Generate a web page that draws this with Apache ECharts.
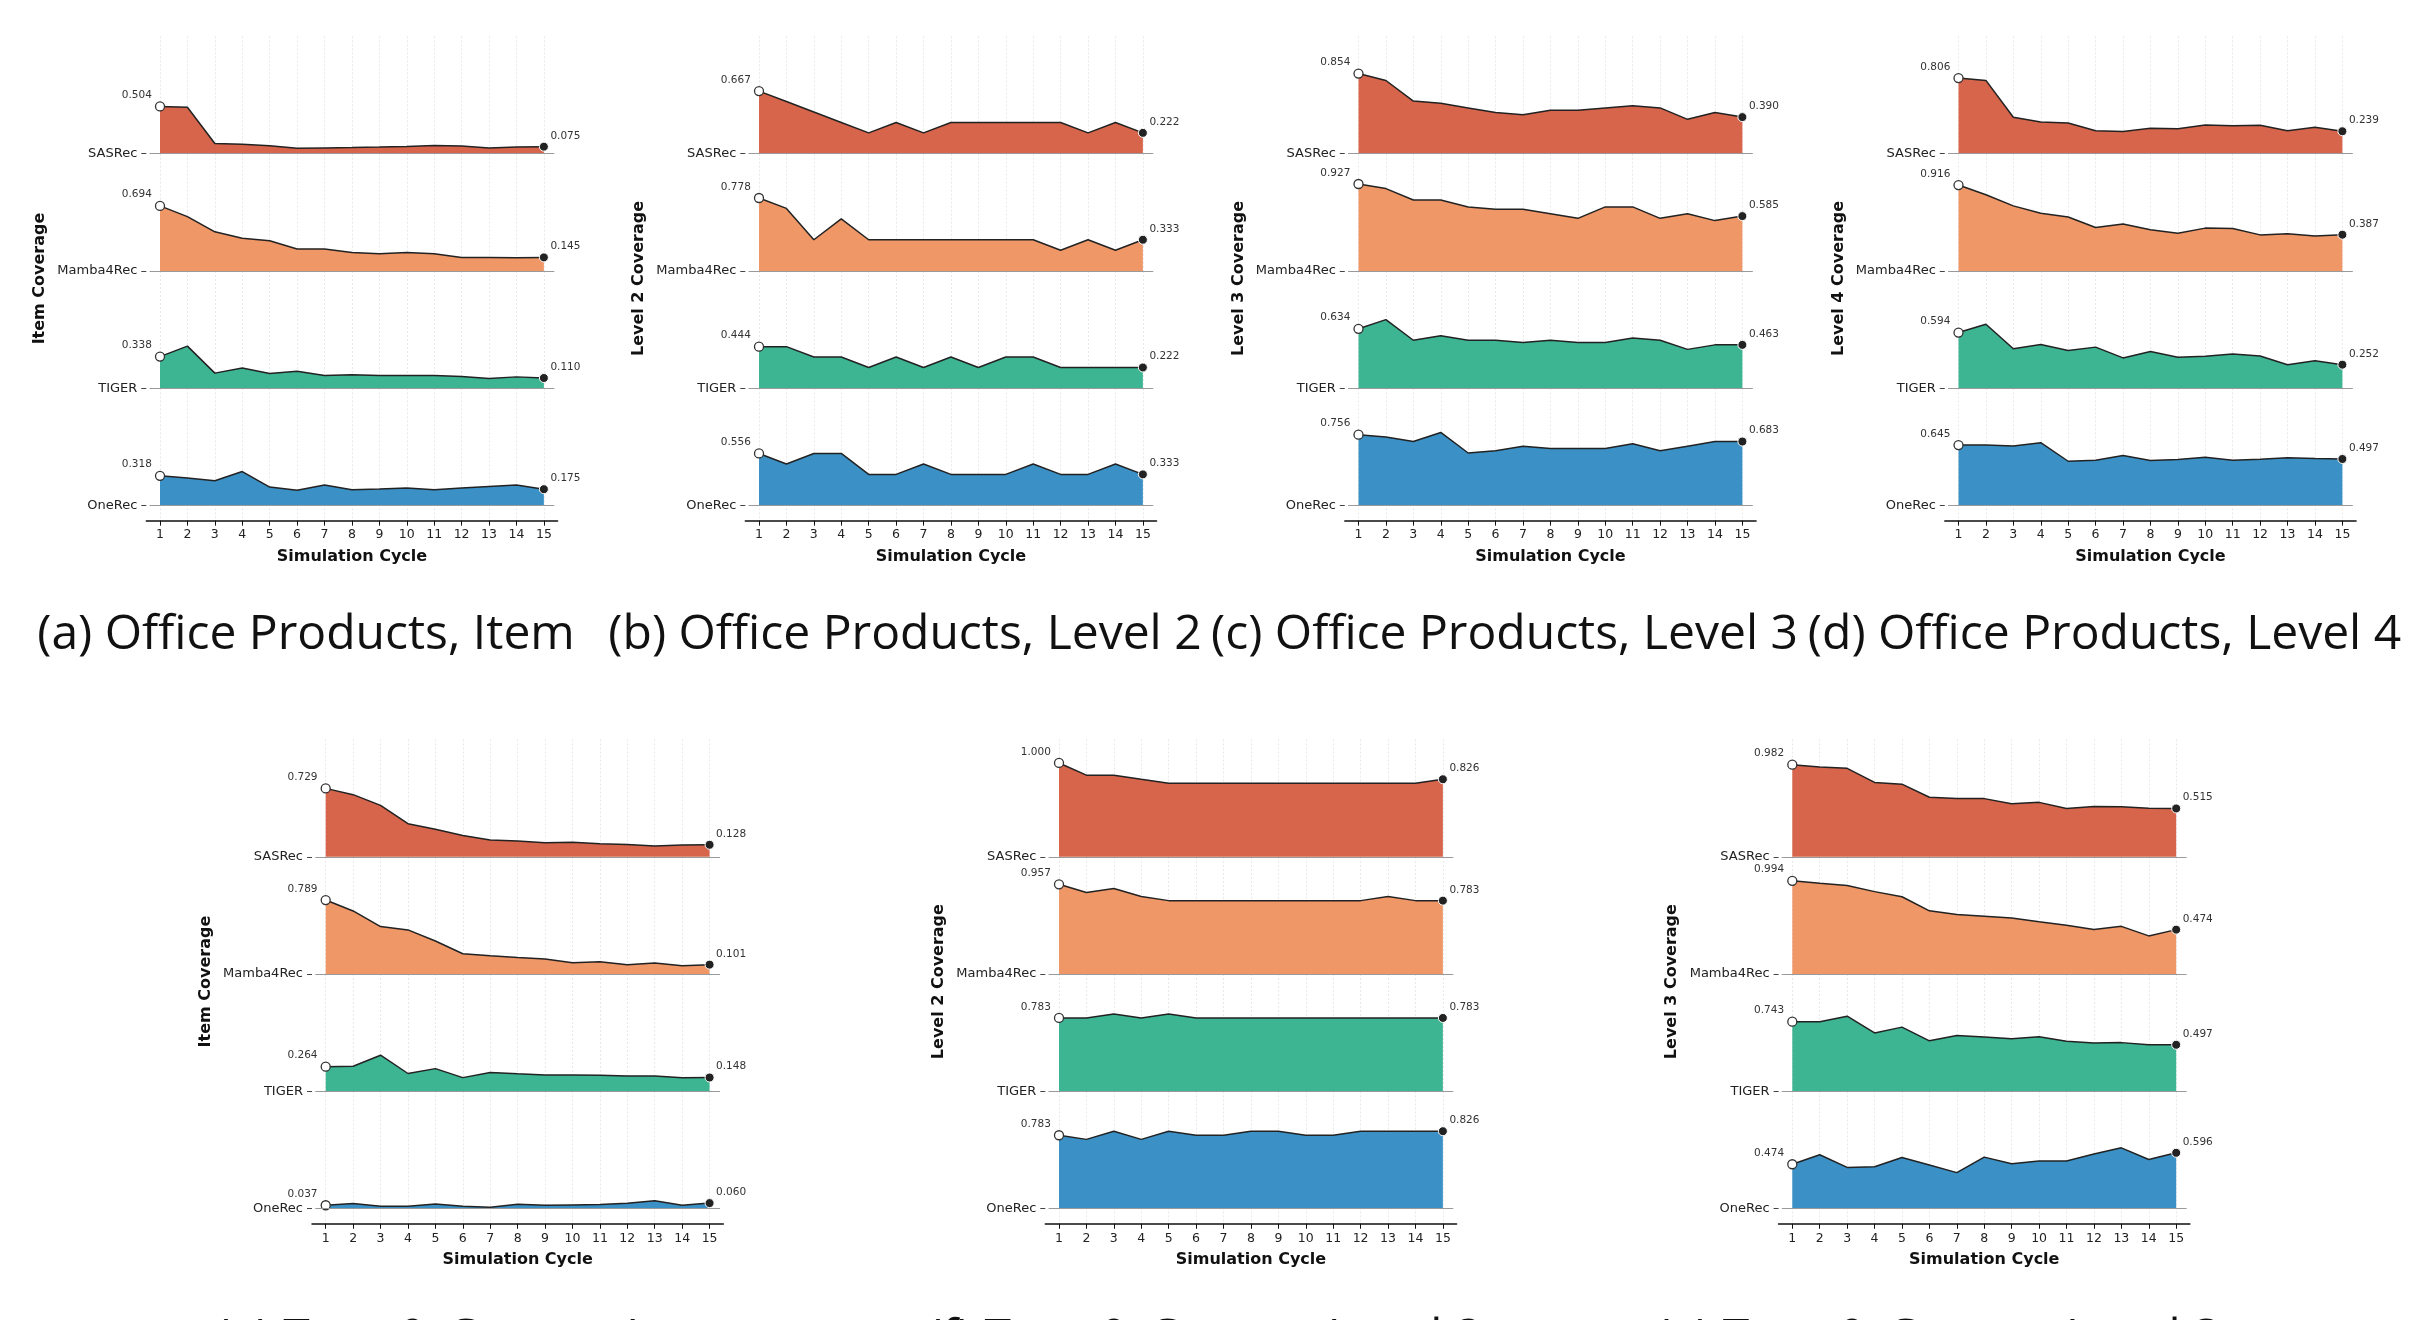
<!DOCTYPE html>
<html>
<head>
<meta charset="utf-8">
<script src="https://cdn.jsdelivr.net/npm/echarts@6/dist/echarts.min.js"></script>
<style>
html,body{margin:0;padding:0;background:#fff;}
#chart{width:2412px;height:1320px;}
</style>
</head>
<body>
<div id="chart"></div>
<script>
// ---------------- data ----------------
const cycles = [1,2,3,4,5,6,7,8,9,10,11,12,13,14,15];
const models = ['SASRec','Mamba4Rec','TIGER','OneRec'];
const modelColors = ['#D6654B','#F09768','#3DB593','#3B91C5'];

// (a) Office Products, Item
const officeItem_SASRec    = [0.504,0.495,0.108,0.101,0.084,0.059,0.062,0.065,0.071,0.078,0.088,0.082,0.062,0.071,0.075];
const officeItem_Mamba4Rec = [0.694,0.580,0.418,0.348,0.322,0.234,0.234,0.198,0.183,0.198,0.185,0.145,0.145,0.141,0.145];
const officeItem_TIGER     = [0.338,0.450,0.162,0.216,0.158,0.183,0.137,0.144,0.137,0.137,0.137,0.126,0.104,0.122,0.110];
const officeItem_OneRec    = [0.318,0.295,0.266,0.363,0.198,0.165,0.219,0.169,0.176,0.187,0.169,0.187,0.205,0.219,0.175];

// (b) Office Products, Level 2
const officeL2_SASRec    = [0.667,0.556,0.444,0.333,0.222,0.333,0.222,0.333,0.333,0.333,0.333,0.333,0.222,0.333,0.222];
const officeL2_Mamba4Rec = [0.778,0.667,0.333,0.556,0.333,0.333,0.333,0.333,0.333,0.333,0.333,0.222,0.333,0.222,0.333];
const officeL2_TIGER     = [0.444,0.444,0.333,0.333,0.222,0.333,0.222,0.333,0.222,0.333,0.333,0.222,0.222,0.222,0.222];
const officeL2_OneRec    = [0.556,0.444,0.556,0.556,0.333,0.333,0.444,0.333,0.333,0.333,0.444,0.333,0.333,0.444,0.333];

// (c) Office Products, Level 3
const officeL3_SASRec    = [0.854,0.780,0.561,0.537,0.488,0.439,0.415,0.463,0.463,0.488,0.512,0.488,0.366,0.439,0.390];
const officeL3_Mamba4Rec = [0.927,0.878,0.756,0.756,0.683,0.659,0.659,0.610,0.561,0.683,0.683,0.561,0.610,0.537,0.585];
const officeL3_TIGER     = [0.634,0.732,0.512,0.561,0.512,0.512,0.488,0.512,0.488,0.488,0.537,0.512,0.415,0.463,0.463];
const officeL3_OneRec    = [0.756,0.732,0.683,0.780,0.561,0.585,0.634,0.610,0.610,0.610,0.659,0.585,0.634,0.683,0.683];

// (d) Office Products, Level 4
const officeL4_SASRec    = [0.806,0.781,0.388,0.338,0.327,0.245,0.237,0.270,0.266,0.306,0.299,0.302,0.245,0.281,0.239];
const officeL4_Mamba4Rec = [0.916,0.813,0.694,0.615,0.576,0.464,0.500,0.439,0.403,0.457,0.453,0.385,0.396,0.374,0.387];
const officeL4_TIGER     = [0.594,0.683,0.421,0.468,0.403,0.439,0.324,0.392,0.331,0.342,0.367,0.345,0.252,0.295,0.252];
const officeL4_OneRec    = [0.645,0.645,0.635,0.671,0.473,0.484,0.534,0.480,0.491,0.516,0.484,0.495,0.509,0.502,0.497];

// (e) Toys & Games, Item
const toysItem_SASRec    = [0.729,0.662,0.548,0.353,0.294,0.228,0.180,0.169,0.151,0.154,0.140,0.132,0.114,0.125,0.128];
const toysItem_Mamba4Rec = [0.789,0.673,0.507,0.471,0.353,0.217,0.195,0.176,0.162,0.121,0.132,0.099,0.118,0.088,0.101];
const toysItem_TIGER     = [0.264,0.268,0.386,0.191,0.243,0.147,0.202,0.188,0.176,0.176,0.173,0.165,0.165,0.147,0.148];
const toysItem_OneRec    = [0.037,0.055,0.026,0.026,0.051,0.026,0.015,0.048,0.037,0.040,0.044,0.059,0.085,0.037,0.060];

// (f) Toys & Games, Level 2
const toysL2_SASRec    = [1.000,0.870,0.870,0.826,0.783,0.783,0.783,0.783,0.783,0.783,0.783,0.783,0.783,0.783,0.826];
const toysL2_Mamba4Rec = [0.957,0.870,0.913,0.826,0.783,0.783,0.783,0.783,0.783,0.783,0.783,0.783,0.826,0.783,0.783];
const toysL2_TIGER     = [0.783,0.783,0.826,0.783,0.826,0.783,0.783,0.783,0.783,0.783,0.783,0.783,0.783,0.783,0.783];
const toysL2_OneRec    = [0.783,0.739,0.826,0.739,0.826,0.783,0.783,0.826,0.826,0.783,0.783,0.826,0.826,0.826,0.826];

// (g) Toys & Games, Level 3
const toysL3_SASRec    = [0.982,0.957,0.943,0.793,0.774,0.635,0.620,0.620,0.565,0.580,0.514,0.535,0.532,0.517,0.515];
const toysL3_Mamba4Rec = [0.994,0.967,0.945,0.879,0.824,0.674,0.634,0.616,0.597,0.557,0.520,0.476,0.509,0.407,0.474];
const toysL3_TIGER     = [0.743,0.743,0.802,0.623,0.685,0.539,0.597,0.579,0.561,0.583,0.535,0.517,0.520,0.498,0.497];
const toysL3_OneRec    = [0.474,0.575,0.440,0.447,0.546,0.465,0.385,0.550,0.480,0.509,0.509,0.583,0.649,0.524,0.596];

const captions = [
  '(a) Office Products, Item', '(b) Office Products, Level 2', '(c) Office Products, Level 3', '(d) Office Products, Level 4',
  '(e) Toys & Games, Item', '(f) Toys & Games, Level 2', '(g) Toys & Games, Level 3'
];
const yTitles = ['Item Coverage','Level 2 Coverage','Level 3 Coverage','Level 4 Coverage','Item Coverage','Level 2 Coverage','Level 3 Coverage'];

// ---------------- layout ----------------
const UNIT = 93.85;     // px per 1.0 coverage
const ROW = 1.25;       // row spacing in value units
const PAD = 0.16;       // gap between last baseline and x axis (value units)
const STEP = 27.42;     // px per cycle
const BASE_FROM = 0.62, BASE_TO = 15.38;
const FONT = '"DejaVu Sans", sans-serif';

const panels = [
  {x1: 160.0,  base: 153.7, capY: 635,  rows: [officeItem_SASRec, officeItem_Mamba4Rec, officeItem_TIGER, officeItem_OneRec]},
  {x1: 759.0,  base: 153.7, capY: 635,  rows: [officeL2_SASRec, officeL2_Mamba4Rec, officeL2_TIGER, officeL2_OneRec]},
  {x1: 1358.5, base: 153.7, capY: 635,  rows: [officeL3_SASRec, officeL3_Mamba4Rec, officeL3_TIGER, officeL3_OneRec]},
  {x1: 1958.5, base: 153.7, capY: 635,  rows: [officeL4_SASRec, officeL4_Mamba4Rec, officeL4_TIGER, officeL4_OneRec]},
  {x1: 325.7,  base: 856.8, capY: 1339, rows: [toysItem_SASRec, toysItem_Mamba4Rec, toysItem_TIGER, toysItem_OneRec]},
  {x1: 1059.0, base: 856.8, capY: 1339, rows: [toysL2_SASRec, toysL2_Mamba4Rec, toysL2_TIGER, toysL2_OneRec]},
  {x1: 1792.3, base: 856.8, capY: 1339, rows: [toysL3_SASRec, toysL3_Mamba4Rec, toysL3_TIGER, toysL3_OneRec]}
];

const grid = [], xAxis = [], yAxis = [], series = [], graphic = [];

panels.forEach((p, pi) => {
  const left = p.x1 - 0.5 * STEP;
  const width = 15 * STEP;
  p.rows.forEach((vals, r) => {
    const isLast = r === 3;
    const k = grid.length;
    const top = p.base + (r - 1) * ROW * UNIT;
    const h = (ROW + (isLast ? PAD : 0)) * UNIT;
    grid.push({left: left, top: top, width: width, height: h, containLabel: false, outerBoundsMode: 'none'});
    xAxis.push({
      type: 'value', gridIndex: k, min: 0.5, max: 15.5,
      axisLine: {show: isLast, onZero: false, lineStyle: {color: '#111', width: 1.5}},
      axisTick: {show: isLast, customValues: cycles, length: 5, lineStyle: {color: '#111', width: 1}},
      axisLabel: {show: isLast, customValues: cycles, fontSize: 12.5, color: '#222', margin: 8, fontFamily: FONT},
      splitLine: {show: true, lineStyle: {color: '#e2e2e2', width: 0.8, type: [2, 2]}},
      name: isLast ? 'Simulation Cycle' : '', nameLocation: 'middle', nameGap: 28,
      nameTextStyle: {fontWeight: 'bold', fontSize: 16, color: '#111', fontFamily: FONT}
    });
    yAxis.push({
      type: 'value', gridIndex: k, min: isLast ? -PAD : 0, max: ROW,
      axisLine: {show: false}, splitLine: {show: false},
      axisTick: {show: true, customValues: [0], length: 5, lineStyle: {color: '#444', width: 1}},
      axisLabel: {show: true, customValues: [0], formatter: () => models[r], fontSize: 13, color: '#222', margin: 9, fontFamily: FONT}
    });
    const n = vals.length;
    const data = vals.map((v, i) => {
      const item = {value: [cycles[i], v]};
      if (i === 0) {
        item.symbol = 'circle'; item.symbolSize = 9;
        item.itemStyle = {color: '#ffffff', borderColor: '#333', borderWidth: 1.3};
        item.label = {show: true, formatter: v.toFixed(3), position: [-3, -0.5], align: 'right', verticalAlign: 'bottom',
                      fontSize: 10.5, color: '#333', fontFamily: FONT};
      } else if (i === n - 1) {
        item.symbol = 'circle'; item.symbolSize = 9;
        item.itemStyle = {color: '#222', borderColor: '#ffffff', borderWidth: 1};
        item.label = {show: true, formatter: v.toFixed(3), position: [11.5, -0.3], align: 'left', verticalAlign: 'bottom',
                      fontSize: 10.5, color: '#333', fontFamily: FONT};
      } else {
        item.symbol = 'none';
      }
      return item;
    });
    series.push({
      type: 'line', name: models[r], xAxisIndex: k, yAxisIndex: k,
      data: data, symbol: 'circle', showSymbol: true, showAllSymbol: true,
      silent: true, animation: false,
      lineStyle: {color: '#222', width: 1.5},
      areaStyle: {color: modelColors[r], opacity: 1, origin: 'auto'},
      emphasis: {disabled: true},
      markLine: {
        silent: true, symbol: 'none', label: {show: false}, animation: false,
        lineStyle: {color: '#9a9a9a', width: 1.2, type: 'solid'},
        data: [[{coord: [BASE_FROM, 0]}, {coord: [BASE_TO, 0]}]]
      }
    });
  });
  const axesTop = p.base - ROW * UNIT;
  const axesBottom = p.base + 3 * ROW * UNIT + PAD * UNIT;
  graphic.push({
    type: 'text', x: p.x1 - 120, y: (axesTop + axesBottom) / 2, rotation: Math.PI / 2,
    style: {text: yTitles[pi], font: 'bold 16px "DejaVu Sans"', fill: '#111', align: 'center', verticalAlign: 'middle'}
  });
  graphic.push({
    type: 'text', x: p.x1 + 146, y: p.capY,
    style: {text: captions[pi], font: '48px "Open Sans"', fill: '#111', align: 'center', verticalAlign: 'middle'}
  });
});

const chart = echarts.init(document.getElementById('chart'), null, {renderer: 'canvas'});
chart.setOption({
  backgroundColor: '#ffffff',
  animation: false,
  grid: grid, xAxis: xAxis, yAxis: yAxis, series: series, graphic: graphic
});
</script>
</body>
</html>
